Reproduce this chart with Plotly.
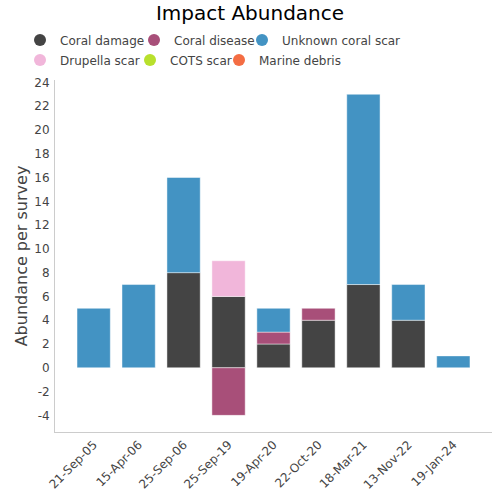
import plotly.graph_objects as go

categories = ["21-Sep-05", "15-Apr-06", "25-Sep-06", "25-Sep-19", "19-Apr-20",
              "22-Oct-20", "18-Mar-21", "13-Nov-22", "19-Jan-24"]
coral_damage = [0, 0, 8, 6, 2, 4, 7, 4, 0]
coral_disease = [0, 0, 0, -4, 1, 1, 0, 0, 0]
unknown_scar = [5, 7, 8, 0, 2, 0, 16, 3, 1]
drupella_scar = [0, 0, 0, 3, 0, 0, 0, 0, 0]
cots_scar = [0, 0, 0, 0, 0, 0, 0, 0, 0]
marine_debris = [0, 0, 0, 0, 0, 0, 0, 0, 0]

y_tick_values = [-4, -2, 0, 2, 4, 6, 8, 10, 12, 14, 16, 18, 20, 22, 24]
y_tick_labels = ["-4", "-2", "0", "2", "4", "6", "8", "10", "12", "14", "16", "18", "20", "22", "24"]

series_names = ["Coral damage", "Coral disease", "Unknown coral scar",
                "Drupella scar", "COTS scar", "Marine debris"]
series_values = [coral_damage, coral_disease, unknown_scar,
                 drupella_scar, cots_scar, marine_debris]
series_colors = ["#444444", "#a84f79", "#4393c3", "#f1b6da", "#b8e02c", "#f46d43"]

# legend layout: (text start px, row center px)
legend_pos = [(60, 40), (174, 40), (282, 40), (60, 60), (170, 60), (259, 60)]

L, R, T, B = 55, 8, 80, 68
W = H = 500
pw, ph = W - L - R, H - T - B

fig = go.Figure()
for name, vals, col in zip(series_names, series_values, series_colors):
    fig.add_trace(go.Bar(
        x=categories, y=[v if v != 0 else None for v in vals], name=name,
        marker=dict(color=col, line=dict(color="rgba(255,255,255,0.45)", width=1)),
        width=0.74, showlegend=False, legendgroup=name,
    ))

legends = {}
for i, (name, col) in enumerate(zip(series_names, series_colors)):
    lid = "legend" if i == 0 else f"legend{i + 1}"
    fig.add_trace(go.Scatter(
        x=[None], y=[None], mode="markers", name=name, legendgroup=name, legend=lid,
        marker=dict(color=col, size=10, symbol="circle"),
    ))
    tx, ty = legend_pos[i]
    legends[lid] = dict(
        orientation="h", xref="paper", yref="paper",
        x=(tx - 40 - L) / pw, xanchor="left",
        y=(H - B - ty) / ph, yanchor="middle",
        font=dict(size=12, color="#444444"), bgcolor="rgba(0,0,0,0)",
        borderwidth=0, itemsizing="constant",
    )

fig.update_layout(
    width=W, height=H,
    barmode="relative",
    paper_bgcolor="white", plot_bgcolor="white",
    font=dict(family="DejaVu Sans", color="#444444", size=12),
    title=dict(text="Impact Abundance", x=0.5, xanchor="center", y=0.974, yanchor="middle",
               font=dict(size=20, color="black", family="DejaVu Sans")),
    margin=dict(l=L, r=R, t=T, b=B),
    xaxis=dict(range=[-0.86, 8.86], tickangle=-45, showline=True, linecolor="#cccccc",
               linewidth=1, ticks="", showgrid=False, automargin=False,
               tickfont=dict(size=12, color="#444444")),
    yaxis=dict(range=[-5.4, 24.2], tickmode="array", tickvals=y_tick_values, ticktext=y_tick_labels,
               showline=True, linecolor="#cccccc",
               linewidth=1, showgrid=False, zeroline=False, ticks="", automargin=False,
               ticklabelstandoff=2,
               title=dict(text="Abundance per survey", font=dict(size=16, color="#444444"), standoff=2),
               tickfont=dict(size=12, color="#444444")),
    **legends,
)

fig.write_html("out.html", config={"displayModeBar": False},
               post_script="document.body.style.margin='0';")
